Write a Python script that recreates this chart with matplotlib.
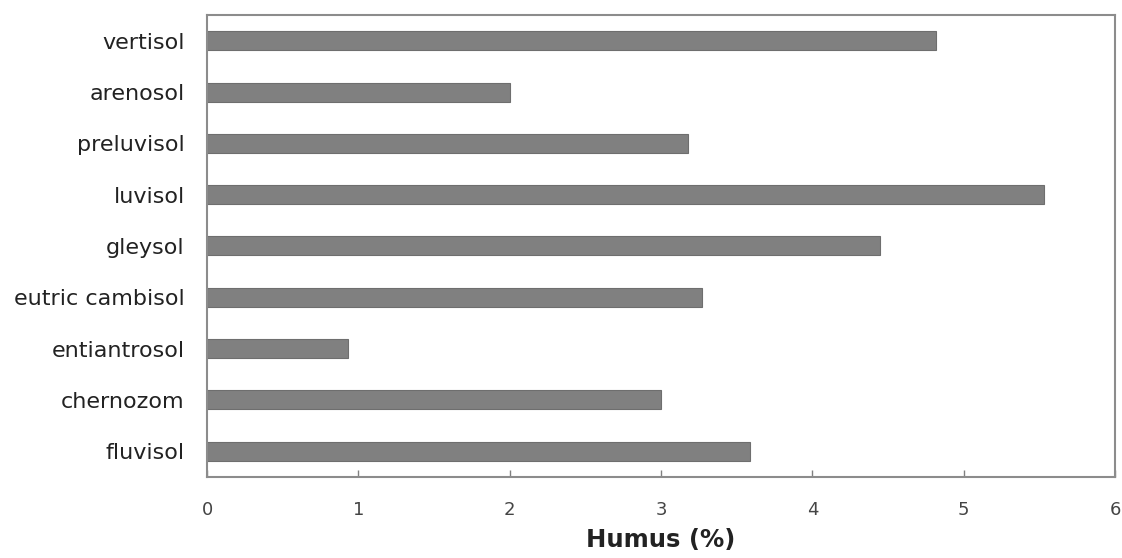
import matplotlib.pyplot as plt

soils = ['fluvisol', 'chernozom', 'entiantrosol', 'eutric cambisol', 'gleysol',
         'luvisol', 'preluvisol', 'arenosol', 'vertisol']
humus = [3.59, 3.00, 0.93, 3.27, 4.45, 5.53, 3.18, 2.00, 4.82]

plt.rcParams['font.family'] = ['DejaVu Sans']

fig = plt.figure(figsize=(11.22, 5.58), dpi=100)
ax = fig.add_axes([0.1845, 0.1452, 0.8093, 0.8279])

ax.barh(range(len(soils)), humus, height=0.37, color='#808080',
        edgecolor='#6e6e6e', linewidth=0.8)

ax.set_xlim(0, 6)
ax.set_ylim(-0.5, len(soils) - 0.5)
ax.set_yticks(range(len(soils)))
ax.set_yticklabels(soils, fontsize=16, color='#222222')
ax.set_xticks(range(7))
ax.tick_params(axis='y', length=0, pad=16)
ax.tick_params(axis='x', direction='in', length=5, width=1, color='#808080',
               labelsize=13, labelcolor='#444444', pad=17)

for s in ax.spines.values():
    s.set_color('#8c8c8c')
    s.set_linewidth(1.5)

ax.set_xlabel('Humus (%)', fontsize=17.5, fontweight='bold', color='#222222', labelpad=7)

fig.savefig('out.png', dpi=100)
